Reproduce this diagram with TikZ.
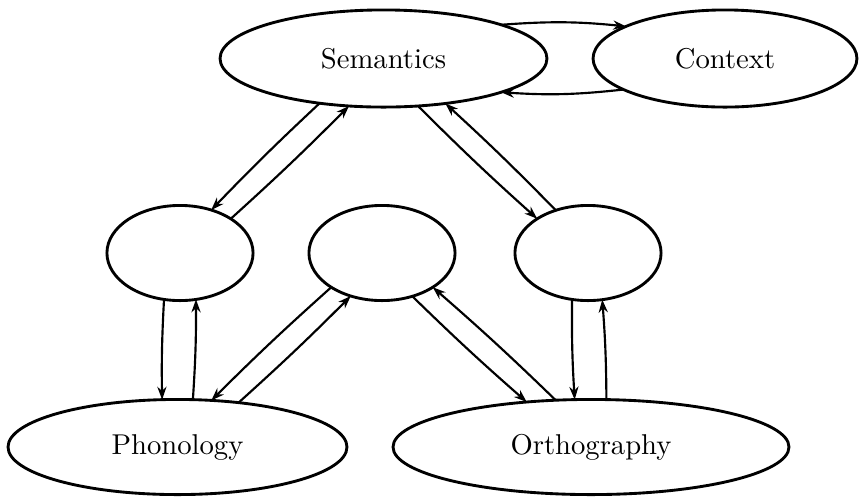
\documentclass[tikz,border=0pt]{standalone}
\usetikzlibrary{shapes.geometric,arrows.meta}
\begin{document}
\begin{tikzpicture}[x=0.349pt,y=-0.349pt,
  blob/.style={draw,ellipse,line width=1pt,inner sep=0pt,outer sep=0pt},
  link/.style={-{Stealth[length=4.5pt,width=3.2pt]},line width=0.75pt}]
\useasboundingbox (0,0) rectangle (859,496);
% top row
\node[blob,minimum width=114.1pt,minimum height=33.9pt] (sem) at (383.5,58.5) {Semantics};
\node[blob,minimum width=92.1pt,minimum height=33.9pt] (ctx) at (725,58.5) {Context};
% hidden layer
\node[blob,minimum width=51pt,minimum height=33.2pt] (c1) at (180,253) {};
\node[blob,minimum width=51pt,minimum height=33.2pt] (c2) at (382,253) {};
\node[blob,minimum width=51pt,minimum height=33.2pt] (c3) at (588,253) {};
% bottom row
\node[blob,minimum width=118.3pt,minimum height=33.2pt] (pho) at (177.5,447) {Phonology};
\node[blob,minimum width=138.2pt,minimum height=33.2pt] (ort) at (591,447) {Orthography};
% connections
\draw[link] (sem.16) to[bend left=5] (ctx.162);
\draw[link] (ctx.197) to[bend left=5] (sem.344);
\draw[link] (sem.215) to[bend right=1.5] (c1.54);
\draw[link] (c1.34) to[bend right=1.5] (sem.234);
\draw[link] (c1.251) to[bend right=2] (pho.108);
\draw[link] (pho.72) to[bend right=2] (c1.289);
\draw[link] (c2.214) to[bend right=1.5] (pho.54);
\draw[link] (pho.36) to[bend right=1.5] (c2.234);
\draw[link] (c2.305) to[bend right=1.5] (ort.145);
\draw[link] (ort.127) to[bend right=1.5] (c2.326);
\draw[link] (sem.306) to[bend right=1.5] (c3.146);
\draw[link] (c3.127) to[bend right=1.5] (sem.324);
\draw[link] (c3.251) to[bend right=2] (ort.109);
\draw[link] (ort.72) to[bend right=2] (c3.287);
\end{tikzpicture}
\end{document}
